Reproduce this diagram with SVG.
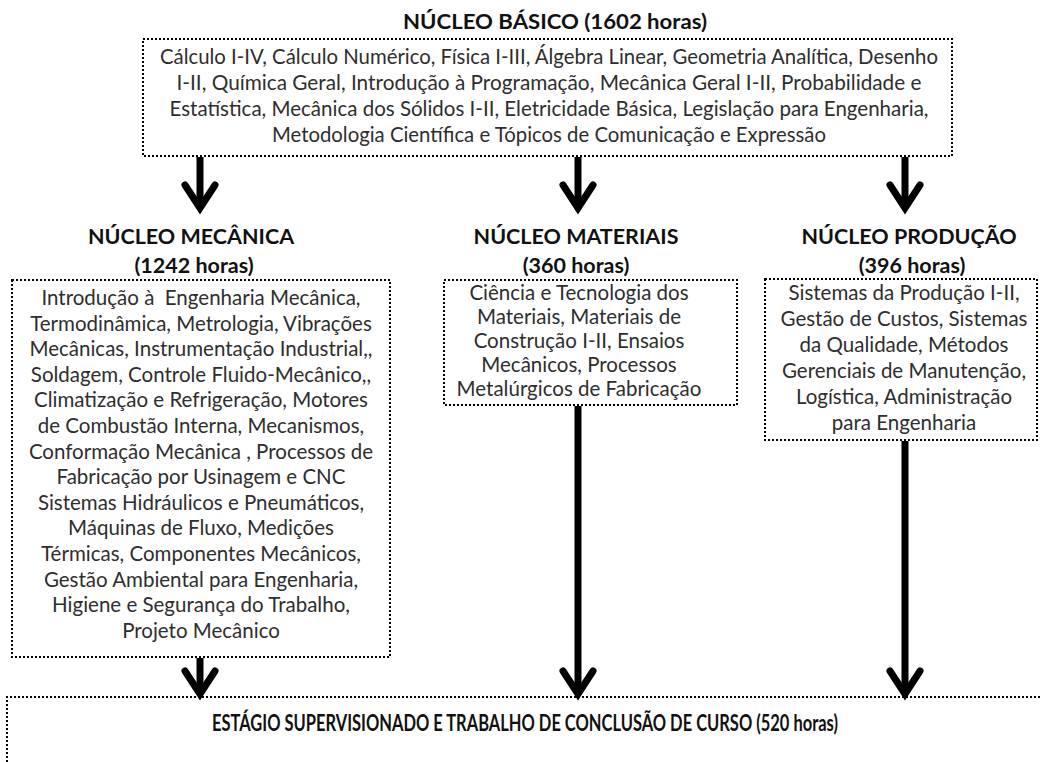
<svg xmlns="http://www.w3.org/2000/svg" width="1040" height="762" viewBox="0 0 1040 762">
<defs>
<style>
.box{fill:#ffffff;stroke:#000;stroke-width:2;stroke-dasharray:2 2}
.t{font-family:Lato,"Open Sans","Liberation Sans",sans-serif;font-size:20.5px;fill:#2e2e2e;text-anchor:middle}
.h{font-family:Lato,"Open Sans","Liberation Sans",sans-serif;font-size:21.5px;font-weight:bold;fill:#111;text-anchor:middle}
.hb{font-family:Lato,"Open Sans","Liberation Sans",sans-serif;font-size:22px;font-weight:bold;fill:#111;text-anchor:middle}
.shaft{stroke:#000;stroke-width:7;fill:none}
.head{stroke:#000;stroke-width:7;fill:none;stroke-linejoin:miter;stroke-linecap:round}
</style>
</defs>
<rect width="1040" height="762" fill="#fff"/>
<g id="basico">
<text class="h" x="555" y="29" textLength="304" lengthAdjust="spacingAndGlyphs">NÚCLEO BÁSICO (1602 horas)</text>
<rect class="box" x="143" y="39" width="809" height="117"/>
<text class="t" x="549" y="64" textLength="778" lengthAdjust="spacingAndGlyphs">Cálculo I-IV, Cálculo Numérico, Física I-III, Álgebra Linear, Geometria Analítica, Desenho</text>
<text class="t" x="549" y="90" textLength="745" lengthAdjust="spacingAndGlyphs">I-II, Química Geral, Introdução à Programação, Mecânica Geral I-II, Probabilidade e</text>
<text class="t" x="549" y="116" textLength="759" lengthAdjust="spacingAndGlyphs">Estatística, Mecânica dos Sólidos I-II, Eletricidade Básica, Legislação para Engenharia,</text>
<text class="t" x="549" y="142" textLength="554" lengthAdjust="spacingAndGlyphs">Metodologia Científica e Tópicos de Comunicação e Expressão</text>
</g>
<g id="mecanica">
<text class="h" x="191" y="244">NÚCLEO MECÂNICA</text>
<text class="h" x="194" y="273">(1242 horas)</text>
<rect class="box" x="12" y="280" width="378" height="377"/>
<g class="t">
<text x="201" y="305">Introdução à&#160; Engenharia Mecânica,</text>
<text x="201" y="331">Termodinâmica, Metrologia, Vibrações</text>
<text x="201" y="356">Mecânicas, Instrumentação Industrial,,</text>
<text x="201" y="382">Soldagem, Controle Fluido-Mecânico,,</text>
<text x="201" y="407">Climatização e Refrigeração, Motores</text>
<text x="201" y="433">de Combustão Interna, Mecanismos,</text>
<text x="201" y="459">Conformação Mecânica , Processos de</text>
<text x="201" y="484">Fabricação por Usinagem e CNC</text>
<text x="201" y="510">Sistemas Hidráulicos e Pneumáticos,</text>
<text x="201" y="535">Máquinas de Fluxo, Medições</text>
<text x="201" y="561">Térmicas, Componentes Mecânicos,</text>
<text x="201" y="587">Gestão Ambiental para Engenharia,</text>
<text x="201" y="612">Higiene e Segurança do Trabalho,</text>
<text x="201" y="638">Projeto Mecânico</text>
</g>
</g>
<g id="materiais">
<text class="h" x="576" y="244">NÚCLEO MATERIAIS</text>
<text class="h" x="576" y="273">(360 horas)</text>
<rect class="box" x="444" y="280" width="293" height="125"/>
<g class="t">
<text x="579" y="300">Ciência e Tecnologia dos</text>
<text x="579" y="324">Materiais, Materiais de</text>
<text x="579" y="348">Construção I-II, Ensaios</text>
<text x="579" y="372">Mecânicos, Processos</text>
<text x="579" y="396">Metalúrgicos de Fabricação</text>
</g>
</g>
<g id="producao">
<text class="h" x="909" y="244">NÚCLEO PRODUÇÃO</text>
<text class="h" x="912" y="273">(396 horas)</text>
<rect class="box" x="765" y="279" width="272" height="161"/>
<g class="t">
<text x="904" y="300">Sistemas da Produção I-II,</text>
<text x="904" y="326">Gestão de Custos, Sistemas</text>
<text x="904" y="352">da Qualidade, Métodos</text>
<text x="904" y="378">Gerenciais de Manutenção,</text>
<text x="904" y="404">Logística, Administração</text>
<text x="904" y="430">para Engenharia</text>
</g>
</g>
<g id="estagio">
<path class="box" d="M7 762 V697 H1040"/>
<text class="hb" x="525" y="731" textLength="626" lengthAdjust="spacingAndGlyphs">ESTÁGIO SUPERVISIONADO E TRABALHO DE CONCLUSÃO DE CURSO (520 horas)</text>
</g>
<g id="connectors">
<line class="shaft" x1="200" y1="157" x2="200" y2="208"/>
<polyline class="head" points="185,185 200,208 215,185"/>
<line class="shaft" x1="578" y1="157" x2="578" y2="208"/>
<polyline class="head" points="563,185 578,208 593,185"/>
<line class="shaft" x1="905" y1="157" x2="905" y2="208"/>
<polyline class="head" points="890,185 905,208 920,185"/>
<line class="shaft" x1="200" y1="658" x2="200" y2="694"/>
<polyline class="head" points="185,671 200,694 215,671"/>
<line class="shaft" x1="578" y1="406" x2="578" y2="694"/>
<polyline class="head" points="563,671 578,694 593,671"/>
<line class="shaft" x1="905" y1="441" x2="905" y2="694"/>
<polyline class="head" points="890,671 905,694 920,671"/>
</g>
</svg>
